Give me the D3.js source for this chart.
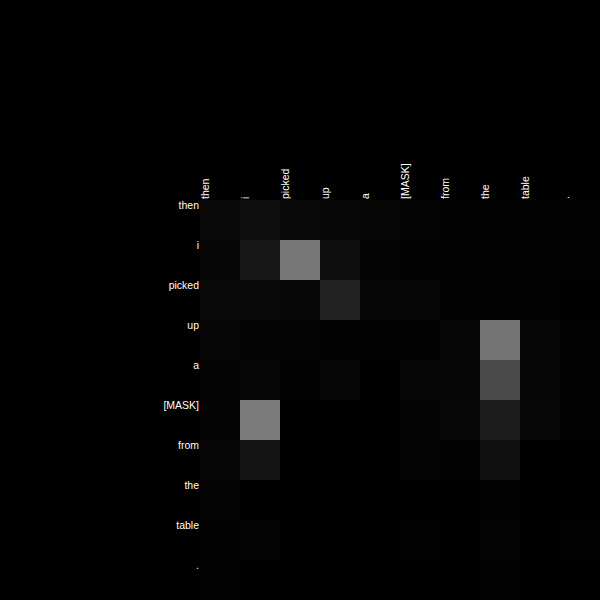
<!DOCTYPE html>
<html><head><meta charset="utf-8">
<script src="https://cdn.jsdelivr.net/npm/d3@7"></script>
<style>html,body{margin:0;padding:0;background:#000;}svg{display:block;}</style>
</head><body>
<svg id="chart" width="600" height="600"></svg>
<script>
const tokens = ["then","i","picked","up","a","[MASK]","from","the","table","."];
const row_then   = [0.040,0.055,0.040,0.032,0.020,0.014,0.010,0.010,0.010,0.008];
const row_i      = [0.022,0.090,0.470,0.060,0.014,0.010,0.008,0.008,0.008,0.006];
const row_picked = [0.035,0.040,0.028,0.135,0.024,0.020,0.010,0.010,0.006,0.005];
const row_up     = [0.018,0.014,0.014,0.012,0.010,0.010,0.025,0.450,0.025,0.010];
const row_a      = [0.014,0.022,0.008,0.018,0.005,0.018,0.020,0.290,0.022,0.008];
const row_mask   = [0.014,0.480,0.005,0.005,0.005,0.015,0.030,0.110,0.028,0.008];
const row_from   = [0.018,0.075,0.005,0.005,0.005,0.014,0.008,0.068,0.005,0.005];
const row_the    = [0.014,0.003,0.003,0.003,0.003,0.004,0.003,0.006,0.003,0.003];
const row_table  = [0.010,0.016,0.004,0.004,0.004,0.008,0.004,0.014,0.005,0.010];
const row_dot    = [0.006,0.004,0.003,0.003,0.003,0.004,0.003,0.006,0.004,0.005];
const matrix = [row_then,row_i,row_picked,row_up,row_a,row_mask,row_from,row_the,row_table,row_dot];

const svg = d3.select("#chart");
const x = d3.scaleBand().domain(tokens.map((t,i)=>i)).range([200,600]).padding(0);
const y = d3.scaleBand().domain(tokens.map((t,i)=>i)).range([200,600]).padding(0);
const color = d3.scaleLinear().domain([0,1]).range(["#000000","#ffffff"]);

svg.append("rect").attr("width",600).attr("height",600).attr("fill","#000");

const cells = [];
matrix.forEach((row,r)=>row.forEach((v,c)=>cells.push({r,c,v})));
svg.append("g").selectAll("rect").data(cells).join("rect")
  .attr("x",d=>x(d.c)).attr("y",d=>y(d.r))
  .attr("width",x.bandwidth()).attr("height",y.bandwidth())
  .attr("fill",d=>color(d.v));

svg.append("g").selectAll("text").data(tokens).join("text")
  .attr("x",199).attr("y",(d,i)=>y(i)+1)
  .attr("text-anchor","end").attr("dominant-baseline","hanging")
  .attr("fill","#fff").attr("font-family","Liberation Sans, Arial, sans-serif")
  .attr("font-size",10.5).text(d=>d);

svg.append("g").selectAll("text").data(tokens).join("text")
  .attr("transform",(d,i)=>`translate(${x(i)+1},199) rotate(-90)`)
  .attr("text-anchor","start").attr("dominant-baseline","hanging")
  .attr("fill","#fff").attr("font-family","Liberation Sans, Arial, sans-serif")
  .attr("font-size",10.5).text(d=>d);
</script>
</body></html>
